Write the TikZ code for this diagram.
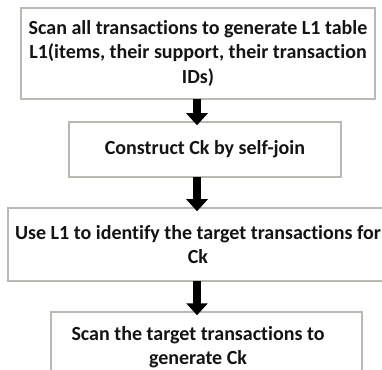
\documentclass[tikz,border=0pt]{standalone}
\usepackage{fontspec}
\setmainfont{Carlito}[Ligatures=NoCommon]
\usetikzlibrary{arrows.meta}
\definecolor{boxline}{RGB}{185,185,178}
\definecolor{ink}{RGB}{20,20,20}
\begin{document}
\begin{tikzpicture}[x=1pt,y=1pt,
  flowbox/.style={draw=boxline, line width=1.5pt, fill=white, align=center,
    inner sep=0pt, text=ink,
    font=\fontsize{20}{24.5}\selectfont\bfseries},
  boxtext/.style={align=center, inner sep=0pt, text=ink,
    font=\fontsize{20}{24.5}\selectfont\bfseries},
  bigarrow/.style={draw=black, line width=8pt,
    -{Triangle[width=21pt,length=12pt]},
    shorten <=-1pt, shorten >=-4pt}]
  \useasboundingbox (0,0) rectangle (382,369);
  \begin{scope}
    \clip (0,0) rectangle (382,369);
    % process steps, top to bottom
    \node[flowbox, minimum width=354, minimum height=91] (b1) at (198,315.5)
      {Scan all transactions to generate L1 table\\
       L1(items, their support, their transaction\\
       IDs)};
    \node[flowbox, minimum width=272, minimum height=55] (b2) at (205,219.5)
      {Construct Ck by self-join};
    \node[flowbox, minimum width=380, minimum height=73] (b3) at (198,124.5)
      {Use L1 to identify the target transactions for\\
       Ck};
    \node[flowbox, minimum width=311, minimum height=66] (b4) at (206.5,24) {};
    \node[boxtext] (b4t) at (198,22)
      {Scan the target transactions to\\
       generate Ck};
    % column of the arrows
    \coordinate (col) at (197,0);
    \draw[bigarrow] (col |- b1.south) -- (col |- b2.north);
    \draw[bigarrow] (col |- b2.south) -- (col |- b3.north);
    \draw[bigarrow] (col |- b3.south) -- (col |- b4.north);
  \end{scope}
\end{tikzpicture}
\end{document}
